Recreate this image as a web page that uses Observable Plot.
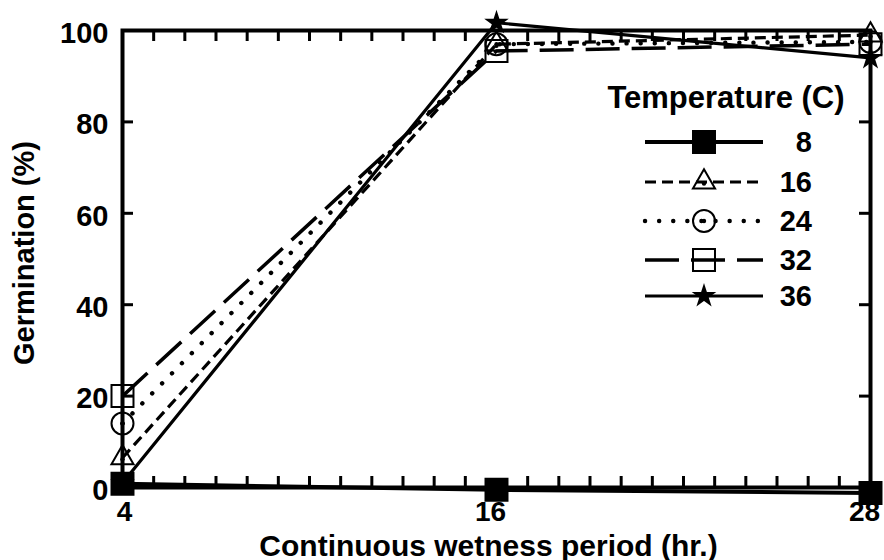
<!DOCTYPE html>
<html><head><meta charset="utf-8">
<script src="https://cdn.jsdelivr.net/npm/d3@7"></script>
<script src="https://cdn.jsdelivr.net/npm/@observablehq/plot@0.6"></script>
<style>
body{margin:0;background:#fff;}
#chart{position:relative;width:884px;height:560px;background:#fff;}
</style>
</head><body><div id="chart"></div>
<script>
// ---- data ----
const hours = [4, 16, 28];
const temps = ["8", "16", "24", "32", "36"];
const g8  = [0.8, -0.5, -1.2];
const g16 = [6.5, 97, 99];
const g24 = [14, 97, 97.5];
const g32 = [20, 95.5, 97];
const g36 = [1, 101.7, 94];
const yTickLabels = [0, 20, 40, 60, 80, 100];
const xTickLabelsFirst = [4];
const xTickLabelsRest = [16, 28];
const xMinorTicks = [5,6,7,8,9,10,11,12,13,14,15,17,18,19,20,21,22,23,24,25,26,27];
const yMinorTicks = [20, 40, 60, 80];
const legendTitle = "Temperature (C)";
const xLabel = "Continuous wetness period (hr.)";
const yLabel = "Germination (%)";

const seriesValues = [g8, g16, g24, g32, g36];
const rows = temps.flatMap((t, i) => hours.map((h, j) => ({temp: t, hour: h, g: seriesValues[i][j]})));

// ---- styles ----
const W = 884, H = 560;
const mL = 122, mR = 14, mT = 30, mB = 73;
const frameW = W - mL - mR, frameH = H - mT - mB;
const tickLen = 11;
const styles = {
  "8":  {dash: null,    width: 4,   symbol: "square",   fill: "black", r: 12.4, center: false, cap: "butt"},
  "16": {dash: "11,6",  width: 3.2, symbol: "triangle", fill: "none",  r: 8.2,  center: true,  cap: "butt"},
  "24": {dash: "0.1,14",width: 4.4, symbol: "circle",   fill: "none",  r: 11,   center: true,  cap: "round"},
  "32": {dash: "34,12", width: 3.5, symbol: "square",   fill: "none",  r: 12.4, center: false, cap: "butt"},
  "36": {dash: null,    width: 3.2, symbol: "star",     fill: "black", r: 5.8,  center: false, cap: "butt"}
};
const font = "Liberation Sans, Arial, Helvetica, sans-serif";
const tickFont = {fontSize: 28, fontWeight: "bold", fontFamily: font};

const marks = [];
// tick marks (inward, all four sides)
marks.push(Plot.tickX(xMinorTicks, {x: d => d, insetTop: frameH - tickLen, strokeWidth: 3}));
marks.push(Plot.tickX(xMinorTicks, {x: d => d, insetBottom: frameH - tickLen, strokeWidth: 3}));
marks.push(Plot.tickY(yMinorTicks, {y: d => d, insetRight: frameW - tickLen, strokeWidth: 3}));
marks.push(Plot.tickY(yMinorTicks, {y: d => d, insetLeft: frameW - tickLen, strokeWidth: 3}));
marks.push(Plot.frame({stroke: "black", strokeWidth: 4}));
// tick labels
marks.push(Plot.axisX(xTickLabelsFirst, {tickSize: 0, tickPadding: 14, label: null, dx: 2, ...tickFont}));
marks.push(Plot.axisX(xTickLabelsRest, {tickSize: 0, tickPadding: 14, label: null, dx: -6, ...tickFont}));
marks.push(Plot.axisY(yTickLabels, {tickSize: 0, tickPadding: 14, label: null, dy: 3, fontSize: 29, fontWeight: "bold", fontFamily: font}));
// axis titles
marks.push(Plot.text([xLabel], {text: d => d, frameAnchor: "bottom", lineAnchor: "bottom", textAnchor: "middle", dy: 68, dx: -8, fontSize: 30, fontWeight: "bold", fontFamily: font}));
marks.push(Plot.text([yLabel], {text: d => d, frameAnchor: "left", lineAnchor: "top", textAnchor: "middle", rotate: -90, dx: -109, dy: -6, fontSize: 29, fontWeight: "bold", fontFamily: font}));
// series lines
for (const t of temps) {
  const s = styles[t];
  marks.push(Plot.line(rows.filter(d => d.temp === t), {x: "hour", y: "g", stroke: "black", strokeWidth: s.width, strokeDasharray: s.dash, strokeLinecap: s.cap}));
}
// series markers
for (const t of temps) {
  const s = styles[t];
  const d = rows.filter(r => r.temp === t);
  marks.push(Plot.dot(d, {x: "hour", y: "g", symbol: s.symbol, r: s.r, fill: s.fill, stroke: "black", strokeWidth: 2}));
  if (s.center) marks.push(Plot.dot(d, {x: "hour", y: "g", r: 2.2, fill: "black", stroke: null, dy: s.symbol === "triangle" ? 1.5 : 0}));
}

const chart = Plot.plot({
  width: W, height: H,
  marginLeft: mL, marginRight: mR, marginTop: mT, marginBottom: mB,
  x: {domain: [4, 28], axis: null},
  y: {domain: [0, 100], axis: null},
  style: {background: "white", color: "black", fontFamily: font, fontWeight: "bold", overflow: "visible"},
  marks
});
document.getElementById("chart").appendChild(chart);

// ---- legend (drawn into the same svg) ----
const svg = d3.select(chart);
const lg = svg.append("g").attr("font-family", font).attr("font-weight", "bold").attr("fill", "black");
lg.append("text").attr("x", 726).attr("y", 108).attr("text-anchor", "middle").attr("font-size", 31).text(legendTitle);
const rowY = [142, 182, 221, 260, 296];
const symMap = {square: d3.symbolSquare, triangle: d3.symbolTriangle, circle: d3.symbolCircle, star: d3.symbolStar};
temps.forEach((t, i) => {
  const s = styles[t];
  const y = rowY[i];
  lg.append("line").attr("x1", 645).attr("x2", 763).attr("y1", y).attr("y2", y)
    .attr("stroke", "black").attr("stroke-width", s.width)
    .attr("stroke-dasharray", s.dash).attr("stroke-linecap", s.cap);
  lg.append("path").attr("transform", `translate(704,${y})`)
    .attr("d", d3.symbol(symMap[s.symbol], Math.PI * s.r * s.r)())
    .attr("fill", s.fill === "none" ? "none" : "black").attr("stroke", "black").attr("stroke-width", 2);
  if (s.center) lg.append("circle").attr("cx", 704).attr("cy", y + (s.symbol === "triangle" ? 1.5 : 0)).attr("r", 2.2).attr("fill", "black");
  lg.append("text").attr("x", 812).attr("y", y + 10).attr("text-anchor", "end").attr("font-size", 29).text(t);
});
</script>
</body></html>
